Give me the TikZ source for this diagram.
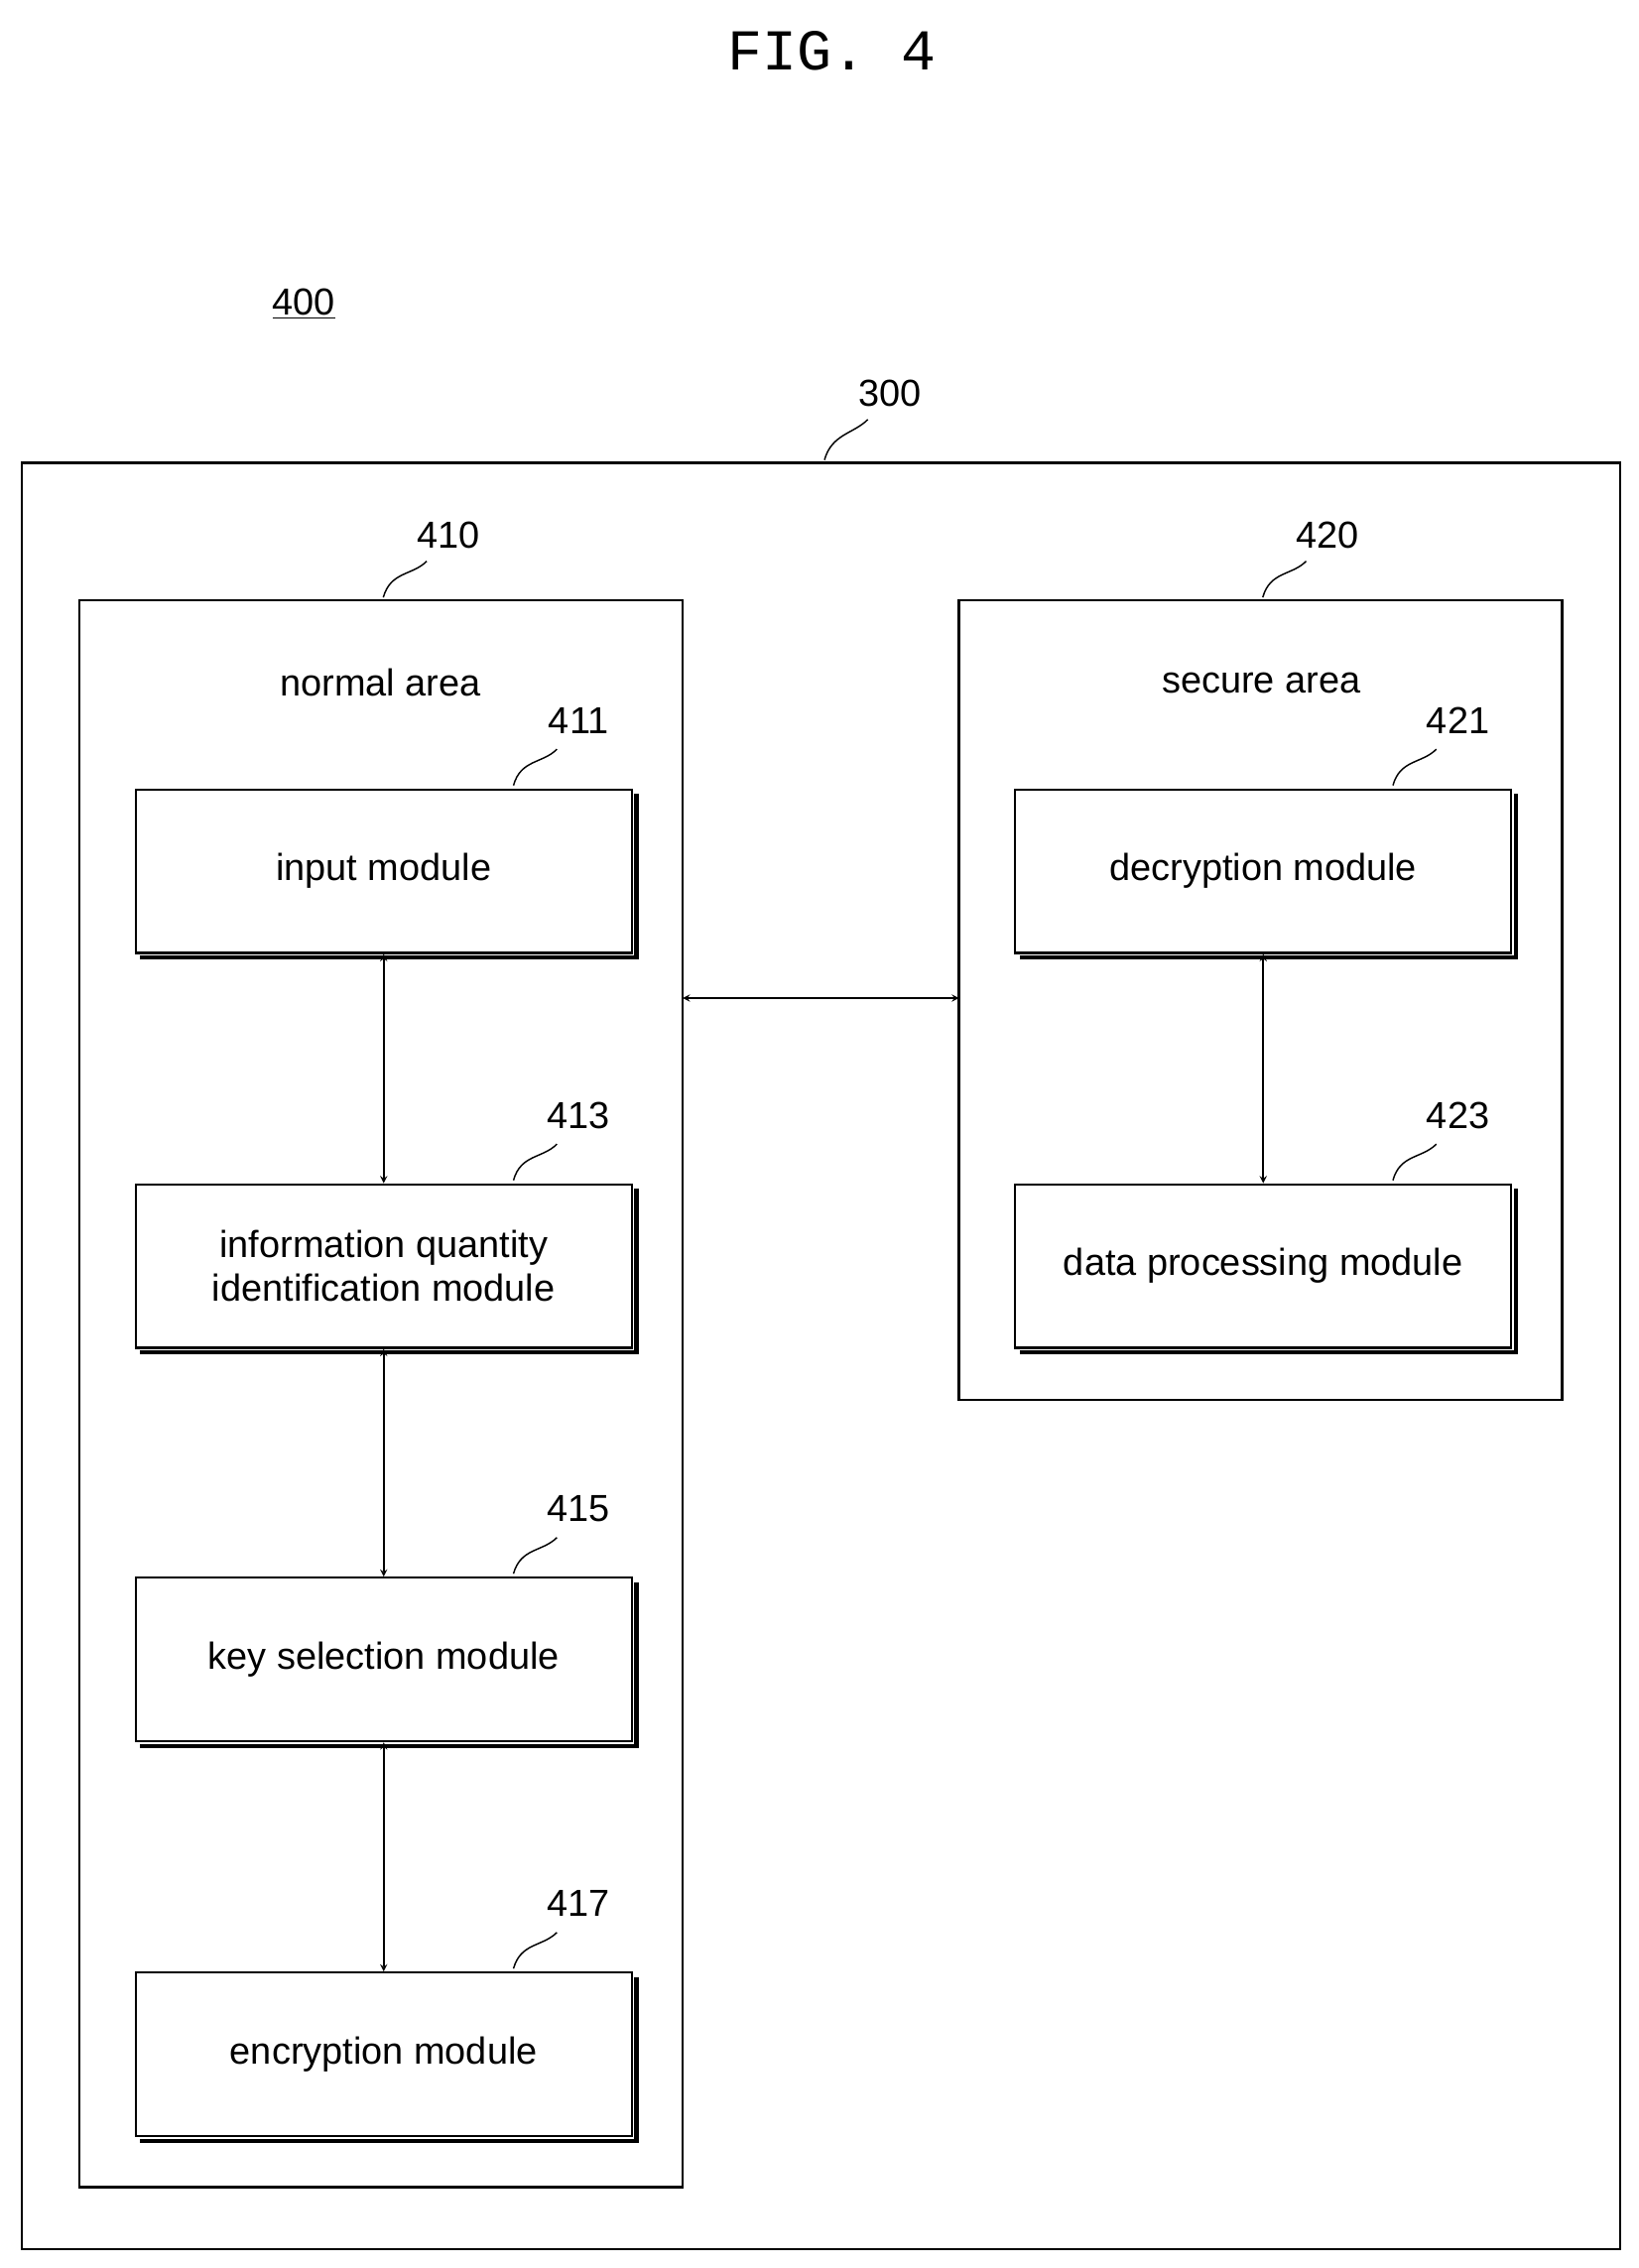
\documentclass[tikz,border=0pt]{standalone}
\usepackage{fontspec}
\setmainfont{Liberation Sans}
\newfontfamily\monof{Liberation Mono}
\begin{document}
\begin{tikzpicture}[x=1pt,y=-1pt,
  box/.style={draw,line width=1.6pt},
  mod/.style={draw,line width=1.6pt,fill=white},
  lbl/.style={font=\fontsize{26}{28}\selectfont},
  txt/.style={font=\fontsize{26}{30}\selectfont,align=center},
  arr/.style={<->,>=stealth,line width=1.2pt}]
\useasboundingbox (0,0) rectangle (1133,1568);
\node[font=\monof\fontsize{40}{44}\selectfont] (title) at (575,35) {FIG. 4};
\node[lbl] (n400) at (210,210) {\underline{400}};
% outer
\draw[box] (15,320) rectangle (1120,1555);
\coordinate (o300) at (570,318);
\node[lbl] (l300) at (615,272) {300};
\draw[line width=1pt] (o300) .. controls (575,300) and (590,300) .. (600,290);
% areas
\draw[box] (55,415) rectangle (472,1512);
\node[lbl] (l410) at (310,370) {410};
\draw[line width=1pt] (265,413) .. controls (270,395) and (285,398) .. (295,388);
\draw[box] (663,415) rectangle (1080,968);
\node[lbl] (l420) at (918,370) {420};
\draw[line width=1pt] (873,413) .. controls (878,395) and (893,398) .. (903,388);
\node[txt] (na) at (263,472) {normal area};
\node[txt] (sa) at (872,472) {secure area};
% modules
\foreach \n/\x/\y/\t/\l in {
  m411/93/545/input module/411,
  m413/93/818/{information quantity\\identification module}/413,
  m415/93/1090/key selection module/415,
  m417/93/1363/encryption module/417,
  m421/701/545/decryption module/421,
  m423/701/818/data processing module/423}{
  \draw[line width=3pt] (\x+4,\y+117) -- (\x+347,\y+117) -- (\x+347,\y+4);
  \node[mod,minimum width=343pt,minimum height=113pt,anchor=north west,txt] (\n) at (\x,\y) {\t};
  \node[lbl] (l\n) at (\x+307,\y-47) {\l};
  \draw[line width=1pt] (\x+262,\y-2) .. controls (\x+267,\y-20) and (\x+282,\y-17) .. (\x+292,\y-27);
}
\draw[arr] (m411.south) -- (m413.north);
\draw[arr] (m413.south) -- (m415.north);
\draw[arr] (m415.south) -- (m417.north);
\draw[arr] (m421.south) -- (m423.north);
\coordinate (a1) at (472,690);
\coordinate (a2) at (663,690);
\draw[arr] (a1) -- (a2);
\end{tikzpicture}
\end{document}
